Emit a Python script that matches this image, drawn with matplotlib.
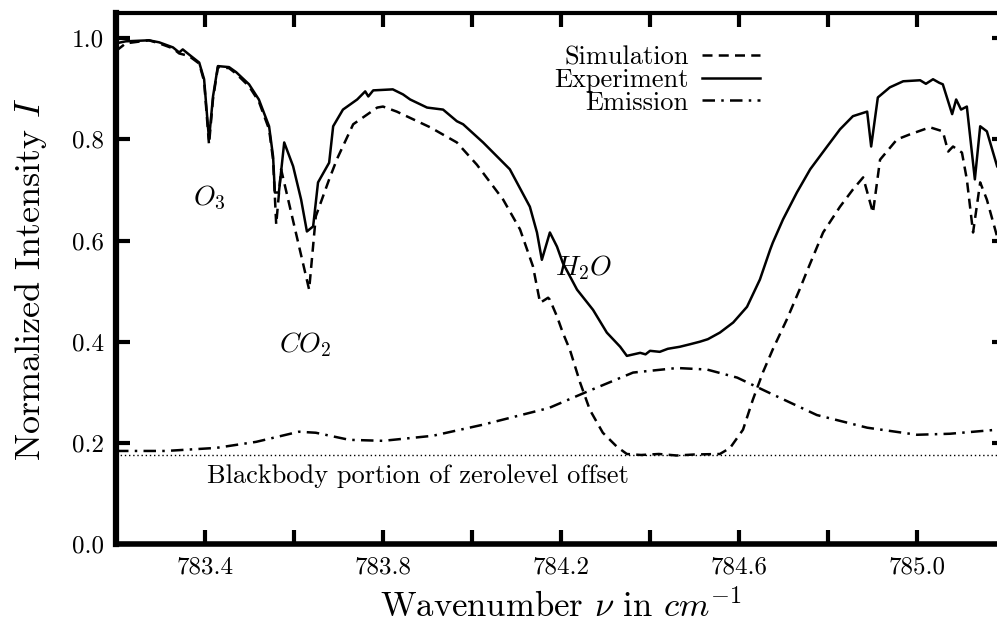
import numpy as np
import matplotlib
matplotlib.use("Agg")
import matplotlib.pyplot as plt
from matplotlib.ticker import FixedLocator, FuncFormatter

plt.rcParams['font.family'] = ['cmr10', 'DejaVu Serif']
plt.rcParams['mathtext.fontset'] = 'cm'
plt.rcParams['axes.unicode_minus'] = False
plt.rcParams['axes.formatter.use_mathtext'] = True

# ---------------- data ----------------
exp_x = [783.200, 783.222, 783.274, 783.297, 783.328, 783.342, 783.350, 783.364, 783.387,
         783.398, 783.409, 783.418, 783.429, 783.454, 783.470, 783.499, 783.521, 783.544,
         783.553, 783.557, 783.566, 783.578, 783.598, 783.616, 783.629, 783.643, 783.654,
         783.679, 783.688, 783.710, 783.742, 783.760, 783.767, 783.778, 783.822, 783.845,
         783.861, 783.899, 783.935, 783.966, 783.980, 784.025, 784.085, 784.130, 784.146,
         784.157, 784.175, 784.191, 784.204, 784.236, 784.272, 784.303, 784.333, 784.348,
         784.378, 784.390, 784.400, 784.422, 784.440, 784.467, 784.490, 784.512, 784.530,
         784.557, 784.587, 784.618, 784.647, 784.670, 784.676, 784.699, 784.730, 784.760,
         784.798, 784.827, 784.856, 784.888, 784.897, 784.912, 784.939, 784.969, 785.007,
         785.020, 785.036, 785.050, 785.058, 785.079, 785.088, 785.099, 785.112, 785.130,
         785.142, 785.157, 785.180]
exp_y = [0.990, 0.994, 0.996, 0.992, 0.982, 0.972, 0.978, 0.968, 0.952,
         0.919, 0.800, 0.885, 0.945, 0.943, 0.933, 0.909, 0.879, 0.826,
         0.766, 0.695, 0.695, 0.794, 0.747, 0.681, 0.618, 0.628, 0.715,
         0.754, 0.826, 0.859, 0.879, 0.895, 0.885, 0.897, 0.899, 0.889,
         0.879, 0.863, 0.859, 0.836, 0.830, 0.794, 0.741, 0.667, 0.616,
         0.562, 0.616, 0.588, 0.556, 0.503, 0.463, 0.418, 0.390, 0.372,
         0.378, 0.375, 0.382, 0.380, 0.386, 0.390, 0.395, 0.400, 0.405,
         0.418, 0.438, 0.469, 0.523, 0.582, 0.596, 0.642, 0.695, 0.741,
         0.786, 0.820, 0.846, 0.855, 0.786, 0.883, 0.903, 0.915, 0.917,
         0.910, 0.919, 0.912, 0.909, 0.850, 0.879, 0.859, 0.865, 0.721,
         0.826, 0.816, 0.747]

sim_x = [783.200, 783.222, 783.274, 783.297, 783.328, 783.342, 783.364, 783.387, 783.398,
         783.409, 783.418, 783.429, 783.454, 783.470, 783.499, 783.521, 783.544, 783.553,
         783.560, 783.571, 783.634, 783.649, 783.679, 783.697, 783.733, 783.787, 783.800,
         783.831, 783.906, 783.966, 784.011, 784.070, 784.108, 784.137, 784.153, 784.164,
         784.171, 784.175, 784.191, 784.204, 784.220, 784.243, 784.265, 784.294, 784.326,
         784.348, 784.380, 784.420, 784.460, 784.500, 784.557, 784.580, 784.609, 784.631,
         784.654, 784.676, 784.708, 784.737, 784.753, 784.789, 784.827, 784.856, 784.879,
         784.901, 784.917, 784.955, 784.984, 785.029, 785.058, 785.070, 785.081, 785.101,
         785.112, 785.126, 785.142, 785.157, 785.180]
sim_y = [0.975, 0.990, 0.996, 0.990, 0.980, 0.970, 0.965, 0.950, 0.915,
         0.790, 0.880, 0.943, 0.941, 0.930, 0.905, 0.875, 0.820, 0.760,
         0.632, 0.741, 0.503, 0.648, 0.721, 0.762, 0.830, 0.863, 0.865,
         0.855, 0.824, 0.794, 0.750, 0.681, 0.622, 0.549, 0.477, 0.483,
         0.487, 0.483, 0.450, 0.418, 0.384, 0.319, 0.265, 0.220, 0.192,
         0.178, 0.176, 0.178, 0.175, 0.177, 0.178, 0.190, 0.226, 0.285,
         0.340, 0.385, 0.445, 0.505, 0.540, 0.616, 0.667, 0.701, 0.725,
         0.655, 0.760, 0.800, 0.810, 0.824, 0.816, 0.776, 0.786, 0.774,
         0.721, 0.616, 0.715, 0.681, 0.608]

emi_x = [783.200, 783.312, 783.425, 783.515, 783.611, 783.649, 783.724, 783.800, 783.912,
         784.025, 784.173, 784.258, 784.362, 784.461, 784.528, 784.596, 784.663, 784.775,
         784.888, 785.000, 785.074, 785.180]
emi_y = [0.184, 0.184, 0.190, 0.202, 0.222, 0.220, 0.206, 0.204, 0.214,
         0.236, 0.269, 0.301, 0.339, 0.348, 0.345, 0.329, 0.301, 0.255,
         0.230, 0.216, 0.218, 0.226]

blackbody_level = 0.176

labels = ["Simulation", "Experiment", "Emission"]
x_ticks = [783.4, 783.6, 783.8, 784.0, 784.2, 784.4, 784.6, 784.8, 785.0]
x_labeled = [783.4, 783.8, 784.2, 784.6, 785.0]
y_ticks = [0.0, 0.2, 0.4, 0.6, 0.8, 1.0]

# ---------------- figure ----------------
fig = plt.figure(figsize=(9.97, 6.27), dpi=100)
ax = fig.add_axes([116/997, 1-544/627, (1006-116)/997, (544-13)/627])

lw = 1.8
l_sim, = ax.plot(sim_x, sim_y, color='black', lw=lw, linestyle=(0, (4, 2.5)))
l_exp, = ax.plot(exp_x, exp_y, color='black', lw=lw, linestyle='-')
l_emi, = ax.plot(emi_x, emi_y, color='black', lw=lw, linestyle=(0, (5, 2.5, 1, 2.5)))
ax.axhline(blackbody_level, color='black', lw=1.0, linestyle=(0, (1, 2)))

ax.set_xlim(783.2, 785.2)
ax.set_ylim(0, 1.05)

ax.xaxis.set_major_locator(FixedLocator(x_ticks))
ax.xaxis.set_major_formatter(FuncFormatter(
    lambda v, p: ("%.1f" % v) if any(abs(v - t) < 1e-6 for t in x_labeled) else ""))
ax.yaxis.set_major_locator(FixedLocator(y_ticks))
ax.yaxis.set_major_formatter(FuncFormatter(lambda v, p: "%.1f" % v))

ax.tick_params(axis='both', which='both', direction='in', length=10, width=3,
               top=True, right=True, labelsize=18, pad=9)
for side, w in [('left', 4.5), ('bottom', 4), ('top', 3), ('right', 3)]:
    ax.spines[side].set_linewidth(w)

ax.set_xlabel(r"Wavenumber $\nu$ in $cm^{-1}$", fontsize=25, labelpad=8)
ax.set_ylabel(r"Normalized Intensity $I$", fontsize=26, labelpad=16)

ax.text(783.41, 0.685, r"$O_3$", fontsize=20, ha='center', va='center')
ax.text(783.625, 0.394, r"$CO_2$", fontsize=20, ha='center', va='center')
ax.text(784.25, 0.547, r"$H_2O$", fontsize=20, ha='center', va='center')
ax.text(783.405, 0.135, "Blackbody portion of zerolevel offset", fontsize=19,
        ha='left', va='center')

leg = ax.legend([l_sim, l_exp, l_emi], labels, loc='upper right',
                bbox_to_anchor=((760-116)/890, (544-46)/531), markerfirst=False,
                frameon=False, fontsize=19, handlelength=2.2, handletextpad=0.5,
                labelspacing=-0.05, borderpad=0, borderaxespad=0)

fig.savefig("out.png", dpi=100)
